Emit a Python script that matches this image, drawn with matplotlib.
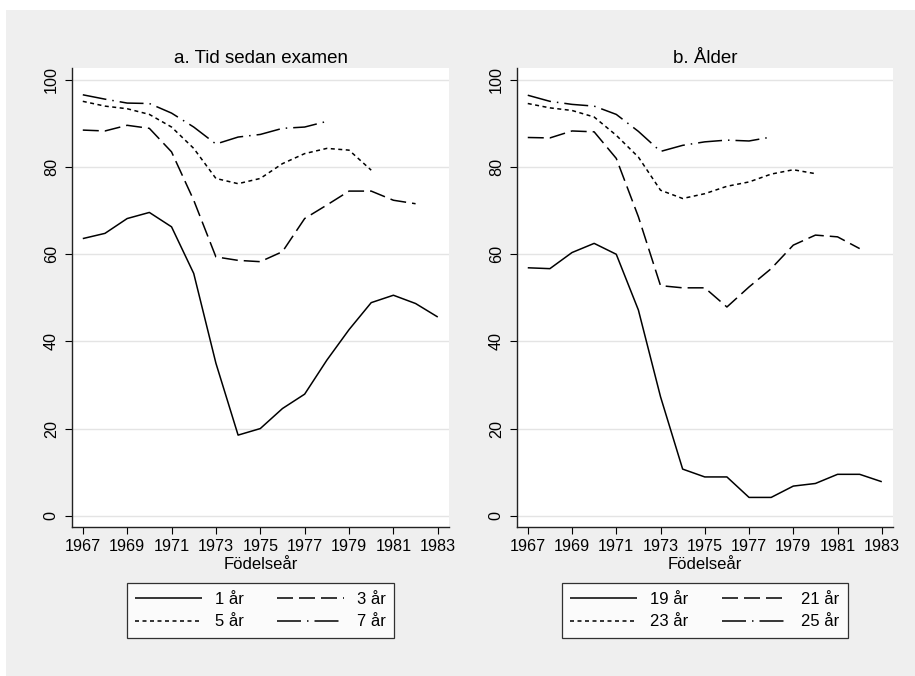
import matplotlib
matplotlib.use("Agg")
import matplotlib.pyplot as plt
from matplotlib.patches import Rectangle

# ---------------- data ----------------
years = list(range(1967, 1984))
xticks = list(range(1967, 1984, 2))
yticks = [0, 20, 40, 60, 80, 100]

title_a = "a. Tid sedan examen"
title_b = "b. Ålder"
xlabel = "Födelseår"

labels_a = ["1 år", "3 år", "5 år", "7 år"]
labels_b = ["19 år", "21 år", "23 år", "25 år"]

a_1 = [63.6, 64.8, 68.2, 69.6, 66.3, 55.6, 35.0, 18.5, 20.0, 24.6, 27.9, 35.7, 42.7, 48.9, 50.6, 48.7, 45.6]
a_3 = [88.5, 88.3, 89.6, 88.9, 83.5, 72.4, 59.4, 58.6, 58.3, 60.6, 68.2, 71.3, 74.5, 74.5, 72.4, 71.6]
a_5 = [95.1, 94.0, 93.4, 92.1, 89.2, 84.3, 77.4, 76.2, 77.4, 80.8, 83.1, 84.3, 83.9, 79.3]
a_7 = [96.6, 95.6, 94.7, 94.6, 92.4, 89.2, 85.3, 86.9, 87.5, 88.9, 89.2, 90.5]

b_19 = [56.9, 56.7, 60.4, 62.5, 60.0, 47.2, 27.3, 10.7, 8.9, 8.9, 4.2, 4.2, 6.8, 7.4, 9.5, 9.5, 7.8]
b_21 = [86.8, 86.7, 88.3, 88.1, 82.0, 68.6, 52.8, 52.3, 52.3, 47.9, 52.5, 56.7, 62.1, 64.4, 64.0, 61.3]
b_23 = [94.6, 93.6, 93.0, 91.5, 87.3, 82.3, 74.7, 72.8, 73.9, 75.6, 76.6, 78.4, 79.4, 78.5]
b_25 = [96.5, 95.1, 94.4, 94.0, 92.1, 88.2, 83.6, 85.0, 85.8, 86.2, 86.0, 86.9]

# ---------------- style ----------------
plt.rcParams['font.family'] = ['Liberation Sans', 'DejaVu Sans']
plt.rcParams['lines.scale_dashes'] = False
FS_TICK = 11.6
FS_LEG = 12
FS_TITLE = 13.5
FS_XLAB = 12
PX = 0.72  # points per pixel at dpi 100

styles = [
    '-',
    (0, (16 * PX, 6 * PX)),
    (0, (4 * PX, 3.5 * PX)),
    (0, (24 * PX, 6 * PX, 1.5 * PX, 6 * PX)),
]

W, H = 915, 676
fig = plt.figure(figsize=(W / 100, H / 100), dpi=100)
fig.patch.set_facecolor('white')
fig.add_artist(Rectangle((6 / W, 0), 1 - 6 / W, (H - 10) / H, transform=fig.transFigure,
                         facecolor='#efefef', edgecolor='none', zorder=0))

def make_axes(left_px, right_px, title, series, labels):
    top_px, bot_px = 68.3, 526.7
    ax = fig.add_axes([left_px / W, (H - bot_px) / H, (right_px - left_px) / W, (bot_px - top_px) / H])
    ax.set_facecolor('white')
    lines = []
    for ys, ls, lab in zip(series, styles, labels):
        ln, = ax.plot(years[:len(ys)], ys, color='black', lw=1.1, linestyle=ls, label=lab,
                      solid_capstyle='butt', dash_capstyle='butt')
        lines.append(ln)
    ax.set_xlim(1966.5, 1983.52)
    ax.set_ylim(-2.52, 102.68)
    ax.set_xticks(xticks)
    ax.set_yticks(yticks)
    ax.set_yticklabels([str(v) for v in yticks], rotation=90, va='center')
    ax.tick_params(axis='both', labelsize=FS_TICK, length=4.8, width=0.8, color='black')
    ax.tick_params(axis='x', pad=4)
    ax.tick_params(axis='y', pad=4.5)
    ax.grid(axis='y', color='#e4e4e4', lw=1.0)
    ax.set_axisbelow(True)
    for s in ['top', 'right']:
        ax.spines[s].set_visible(False)
    for s in ['left', 'bottom']:
        ax.spines[s].set_color('#222222')
        ax.spines[s].set_linewidth(1.0)
    ax.set_title(title, fontsize=FS_TITLE, pad=4.0)
    ax.set_xlabel(xlabel, fontsize=FS_XLAB, labelpad=2.5)
    # row-major order as in the reference (matplotlib fills column-major)
    order = [0, 2, 1, 3]
    leg = ax.legend([lines[i] for i in order], [labels[i] for i in order],
                    loc='upper center', bbox_to_anchor=(0.5, (bot_px - 583.3) / (bot_px - top_px)),
                    ncol=2, fontsize=FS_LEG, frameon=True, fancybox=False, borderaxespad=0,
                    handlelength=4.0, handletextpad=0.78, columnspacing=2.0,
                    labelspacing=0.45, borderpad=0.52)
    leg.get_frame().set_edgecolor('black')
    leg.get_frame().set_linewidth(0.9)
    return ax

make_axes(71.7, 449.3, title_a, [a_1, a_3, a_5, a_7], labels_a)
make_axes(516.7, 893.3, title_b, [b_19, b_21, b_23, b_25], labels_b)

fig.savefig('out.png', dpi=100)
